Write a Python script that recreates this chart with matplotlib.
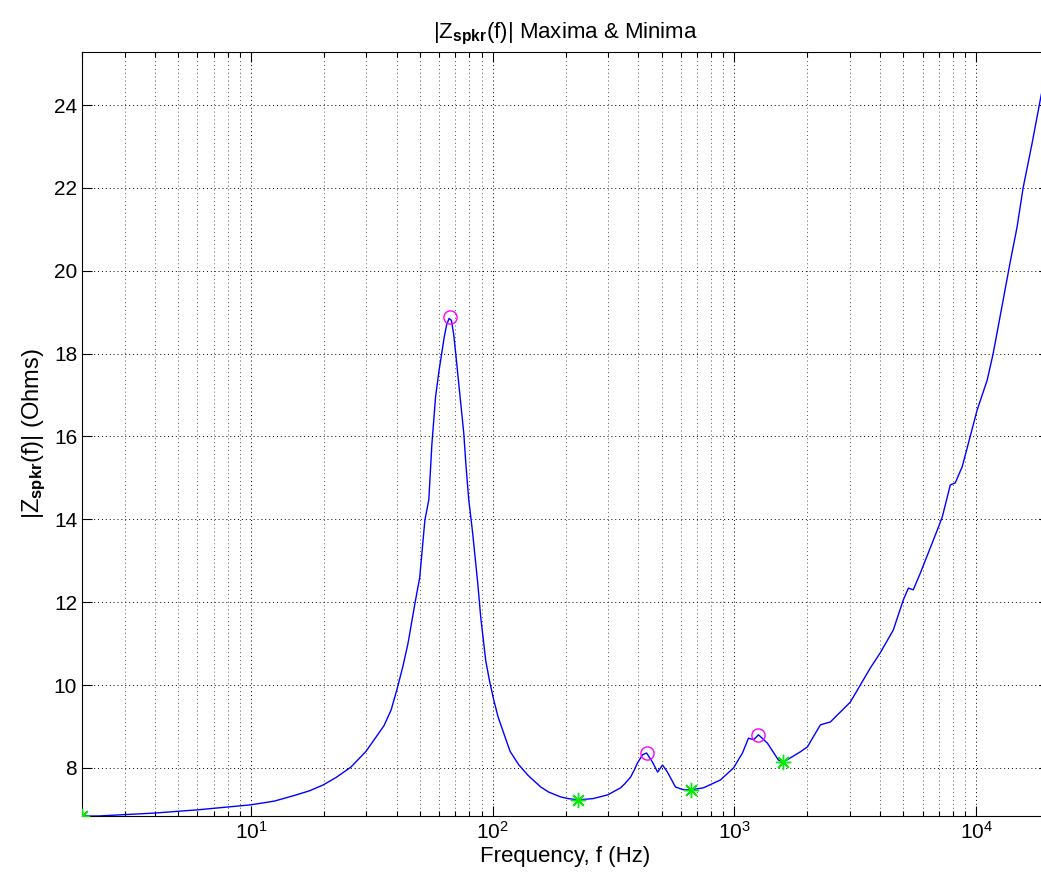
import matplotlib.pyplot as plt
from matplotlib.ticker import LogLocator, NullFormatter, FixedLocator

plt.rcParams['font.family'] = ['Liberation Sans', 'DejaVu Sans']
plt.rcParams['mathtext.fontset'] = 'custom'
plt.rcParams['mathtext.rm'] = 'Liberation Sans'
plt.rcParams['mathtext.it'] = 'Liberation Sans:italic'
plt.rcParams['mathtext.bf'] = 'Liberation Sans:bold'

# |Z| curve (Hz, Ohms)
freq = [2.0, 2.33, 3.97, 6.04, 10.0, 12.5, 15.0, 17.5, 19.9, 22.5, 25.9,
        29.9, 32.5, 35.5, 38.0, 40.1, 42.5, 44.6, 47.7, 49.9, 52.4, 54.4,
        56.0, 58.0, 60.0, 61.5, 63.0, 64.5, 66.0, 67.5, 69.0, 70.3, 72.0,
        75.9, 77.5, 79.6, 82.6, 86.7, 89.2, 93.5, 97.0, 101, 105, 111, 118,
        128, 140, 158, 170, 191, 205, 226, 260, 299, 338, 352, 372, 385,
        397, 417, 433, 458, 481, 504, 528, 570, 610, 658, 744, 875, 991,
        1079, 1143, 1200, 1257, 1368, 1520, 1593, 1874, 2004, 2204, 2266,
        2493, 3015, 3645, 4010, 4540, 4990, 5240, 5490, 5870, 6900, 7240,
        7810, 8190, 8750, 9440, 10090, 11100, 11750, 12930, 13800, 14750,
        15630, 17030, 18370, 20000]
zmag = [6.84, 6.84, 6.91, 6.99, 7.11, 7.20, 7.33, 7.45, 7.59, 7.77, 8.02,
        8.40, 8.70, 9.02, 9.40, 9.88, 10.45, 11.0, 11.98, 12.6, 13.98,
        14.47, 15.8, 16.95, 17.6, 18.0, 18.4, 18.7, 18.85, 18.8, 18.45,
        18.0, 17.4, 16.08, 15.3, 14.47, 13.67, 12.46, 11.64, 10.6, 10.1,
        9.64, 9.25, 8.84, 8.40, 8.08, 7.82, 7.54, 7.42, 7.30, 7.26, 7.23,
        7.26, 7.35, 7.52, 7.62, 7.78, 7.95, 8.12, 8.32, 8.36, 8.14, 7.90,
        8.07, 7.90, 7.54, 7.48, 7.47, 7.52, 7.71, 8.00, 8.36, 8.72, 8.68,
        8.80, 8.60, 8.19, 8.14, 8.39, 8.51, 8.92, 9.04, 9.11, 9.59, 10.41,
        10.78, 11.33, 12.05, 12.34, 12.30, 12.70, 13.74, 14.06, 14.83,
        14.88, 15.27, 16.0, 16.64, 17.36, 18.0, 19.3, 20.19, 21.05, 22.0,
        23.08, 24.1, 25.2]

max_f = [66.4, 433, 1257]
max_z = [18.88, 8.36, 8.80]
min_f = [2.0, 226, 658, 1593]
min_z = [6.84, 7.23, 7.47, 8.14]

fig = plt.figure(figsize=(10.41, 8.86), dpi=100)
ax = fig.add_axes([82 / 1041, 70 / 886, 967 / 1041, 764 / 886])

ax.plot(freq, zmag, color='#0000ff', lw=1.0, zorder=3)
ax.plot(max_f, max_z, 'o', mfc='none', mec='#ff00ff', ms=9.5, mew=1.0, zorder=4)
ax.plot(min_f, min_z, ls='none', color='#00ee00', ms=11, mew=1.0, zorder=4,
        marker=(8, 2, 0))

ax.set_xscale('log')
ax.set_xlim(2, 20000)
ax.set_ylim(6.84, 25.28)
ax.yaxis.set_major_locator(FixedLocator([8, 10, 12, 14, 16, 18, 20, 22, 24]))
ax.xaxis.set_major_locator(LogLocator(base=10, numticks=10))
ax.xaxis.set_minor_locator(LogLocator(base=10, subs=range(2, 10), numticks=20))
ax.xaxis.set_minor_formatter(NullFormatter())

ax.grid(True, which='major', color='black', ls=(0, (1, 3)), lw=0.7)
ax.grid(True, which='minor', axis='x', color='#555555', ls=(0, (1, 3)), lw=0.7)
ax.set_axisbelow(True)

ax.tick_params(which='both', direction='in', top=True, right=True, labelsize=15)
ax.tick_params(which='major', length=7, width=0.8)
ax.tick_params(which='minor', length=3.5, width=0.8)
for s in ax.spines.values():
    s.set_linewidth(0.8)

ax.set_title(r'|Z$_{\mathbf{spkr}}$(f)| Maxima & Minima', fontsize=16, pad=10)
ax.set_xlabel('Frequency, f (Hz)', fontsize=16, labelpad=2)
ax.set_ylabel(r'|Z$_{\mathbf{spkr}}$(f)| (Ohms)', fontsize=17, labelpad=4)

plt.savefig('out.png', dpi=100)
